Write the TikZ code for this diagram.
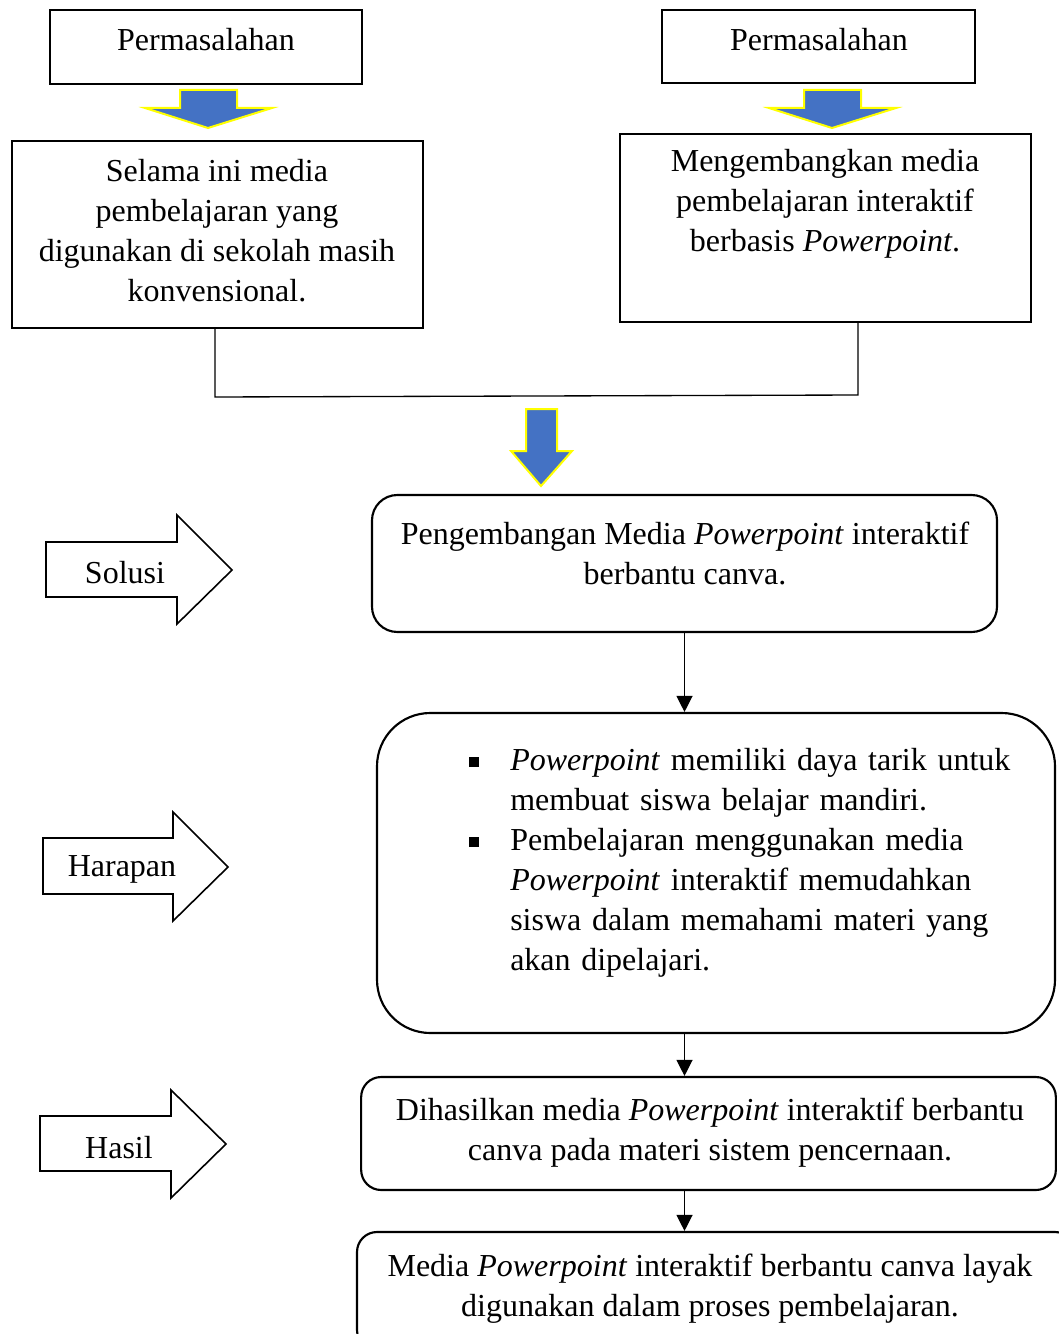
\documentclass[tikz,border=0pt]{standalone}
\usepackage{fontspec}
\setmainfont{Liberation Serif}
\usepackage{tikz}
\usepackage{xcolor}
\usetikzlibrary{arrows.meta}
\usetikzlibrary{positioning}

\definecolor{arrowblue}{HTML}{4472C4}
\definecolor{arrowyellow}{HTML}{FFFF00}

\begin{document}
\begin{tikzpicture}[x=0.75pt, y=-0.75pt,
	txt/.style={font=\fontsize{24}{30}\selectfont, align=center, inner sep=0pt},
	flatbox/.style={draw, line width=1pt, inner sep=0pt},
	roundbox/.style={draw, line width=1.6pt, inner sep=0pt},
	bluearrow/.style={fill=arrowblue, draw=arrowyellow, line width=1.5pt, line join=miter},
	sidearrow/.style={draw, line width=1.2pt, line join=miter},
	link/.style={draw, line width=0.9pt, -{Triangle[width=12pt,length=12pt]}}]
				\clip (0,0) rectangle (1059,1334);
				\useasboundingbox (0,0) rectangle (1059,1334);
				% boxes
				\node[flatbox, minimum width=234pt, minimum height=55.5pt] (p1) at (206,47) {};
				\node[flatbox, minimum width=234.75pt, minimum height=54.75pt] (p2) at (818.5,46.5) {};
				\node[flatbox, minimum width=308.25pt, minimum height=140.25pt] (s1) at (217.5,234.5) {};
				\node[flatbox, minimum width=308.25pt, minimum height=141pt] (s2) at (825.5,228) {};
				\node[roundbox, rounded corners=19pt, minimum width=468.75pt, minimum height=102.75pt] (solusi) at (684.5,563.5) {};
				\node[roundbox, rounded corners=40pt, minimum width=508.5pt, minimum height=240pt] (harapan) at (716,873) {};
				\node[roundbox, rounded corners=15pt, minimum width=521pt, minimum height=84.75pt] (hasil) at (708.5,1133.5) {};
				\node[roundbox, rounded corners=15pt, minimum width=538.5pt, minimum height=88.5pt] (akhir) at (716,1291) {};
				% texts
				\node[txt] (p1t) at (206,40) {Permasalahan};
				\node[txt] (p2t) at (819,40) {Permasalahan};
				\node[txt] (s1t) at (217,231) {Selama ini media\\pembelajaran yang\\digunakan di sekolah masih\\konvensional.};
				\node[txt] (s2t) at (825,204) {Mengembangkan media\\pembelajaran interaktif\\berbasis \textit{Powerpoint}.};
				\node[txt] (solusit) at (685,553) {Pengembangan Media \textit{Powerpoint} interaktif\\berbantu canva.};
				\node[txt, align=left, text width=420pt, anchor=west] (harapant) at (469,863) {%
					\makebox[30.75pt][l]{\rule[3pt]{7pt}{7pt}}\textit{Powerpoint} memiliki daya tarik untuk\\
					\hspace*{30.75pt}membuat siswa belajar mandiri.\\
					\makebox[30.75pt][l]{\rule[3pt]{7pt}{7pt}}Pembelajaran menggunakan media\\
					\hspace*{30.75pt}\textit{Powerpoint} interaktif memudahkan\\
					\hspace*{30.75pt}siswa dalam memahami materi yang\\
					\hspace*{30.75pt}akan dipelajari.};
				\node[txt] (hasilt) at (710,1133) {Dihasilkan media \textit{Powerpoint} interaktif berbantu\\canva pada materi sistem pencernaan.};
				\node[txt] (akhirt) at (710,1289) {Media \textit{Powerpoint} interaktif berbantu canva layak\\digunakan dalam proses pembelajaran.};
				% blue arrows
				\draw[bluearrow] (180,90) -- (237,90) -- (237,108) -- (272,108) -- (208,128) -- (145,108) -- (180,108) -- cycle;
				\draw[bluearrow] (804,90) -- (861,90) -- (861,108) -- (896,108) -- (832,128) -- (769,108) -- (804,108) -- cycle;
				\draw[bluearrow] (526,409) -- (557,409) -- (557,451) -- (572,451) -- (541,486) -- (511,451) -- (526,451) -- cycle;
				% side arrows
				\draw[sidearrow] (46,542) -- (177,542) -- (177,515) -- (232,570) -- (177,624) -- (177,597) -- (46,597) -- cycle;
				\draw[sidearrow] (43,838) -- (173,838) -- (173,812) -- (228,867) -- (173,921) -- (173,894) -- (43,894) -- cycle;
				\draw[sidearrow] (40,1116) -- (171,1116) -- (171,1090) -- (226,1144) -- (171,1198) -- (171,1171) -- (40,1171) -- cycle;
				\node[txt] (solusil) at (125,573) {Solusi};
				\node[txt] (harapanl) at (122,869) {Harapan};
				\node[txt] (hasill) at (119,1148) {Hasil};
				% joining lines
				\coordinate (jl) at (215,397);
				\coordinate (jr) at (858,395);
				\draw[line width=1pt] (s1.south -| jl) -- (jl) -- (jr) -- (s2.south -| jr);
				\draw[link] (solusi.south) -- (solusi.south |- harapan.north);
				\draw[link] (harapan.south -| solusi.south) -- (hasil.north -| solusi.south);
				\draw[link] (hasil.south -| solusi.south) -- (akhir.north -| solusi.south);
			\end{tikzpicture}
\end{document}
